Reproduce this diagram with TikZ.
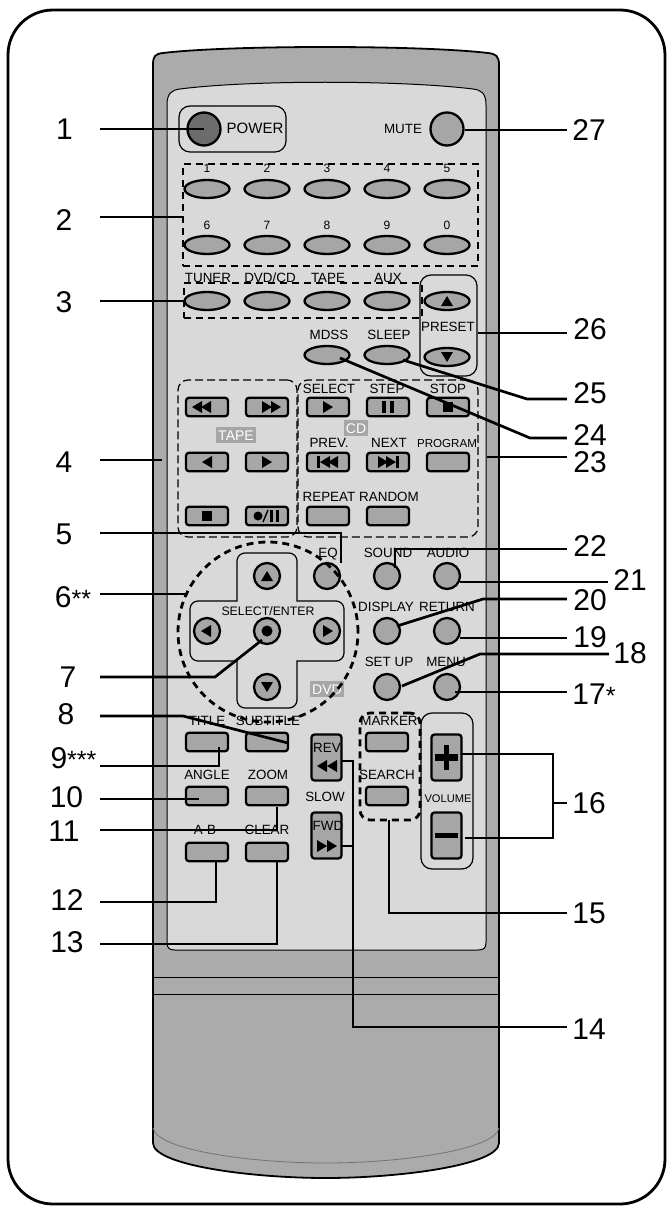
\documentclass[tikz,border=0pt]{standalone}
\usepackage{fontspec}
\setmainfont{Liberation Sans}
\usetikzlibrary{shapes.geometric}
\definecolor{bodygray}{gray}{0.67}
\definecolor{panelgray}{gray}{0.85}
\definecolor{keygray}{gray}{0.65}
\tikzset{
 leader/.style={line width=2.7pt},
 keyoval/.style={draw,line width=2.3pt,fill=keygray,shape=ellipse,inner sep=0pt,minimum width=45pt,minimum height=18pt},
 keyround/.style={draw,line width=2.3pt,fill=keygray,shape=circle,inner sep=0pt,minimum size=26pt},
 keyrect/.style={draw,line width=2.3pt,fill=keygray,rounded corners=3pt,inner sep=0pt,minimum width=42pt,minimum height=18.5pt},
 keytall/.style={draw,line width=2.3pt,fill=keygray,rounded corners=3pt,inner sep=0pt,minimum width=30pt,minimum height=46pt},
 groupbox/.style={draw,line width=1.2pt,rounded corners=11pt,inner sep=0pt},
 heavydash/.style={draw,line width=2.8pt,dash pattern=on 7pt off 5pt},
 lightdash/.style={draw,line width=1.2pt,dash pattern=on 8pt off 4pt},
 keytext/.style={inner sep=0pt,text height=9.6pt,text depth=0pt,font=\fontsize{13.4}{14}\selectfont},
 tag/.style={fill=keygray,text=white,inner xsep=2pt,inner ysep=3pt,text height=10pt,text depth=0pt,font=\fontsize{14}{14}\selectfont},
 numtext/.style={inner sep=0pt,text height=21.5pt,text depth=0pt,font=\fontsize{30}{30}\selectfont}
}
\newcommand{\startxt}[1]{{\fontsize{25}{25}\selectfont #1}}
\newcommand{\ltri}[2]{\fill (#1+5,#2-6) -- (#1+5,#2+6) -- (#1-5,#2) -- cycle;}
\newcommand{\rtri}[2]{\fill (#1-5,#2-6) -- (#1-5,#2+6) -- (#1+5,#2) -- cycle;}
\newcommand{\utri}[2]{\fill (#1-6,#2+5) -- (#1+6,#2+5) -- (#1,#2-5) -- cycle;}
\newcommand{\dtri}[2]{\fill (#1-6,#2-5) -- (#1+6,#2-5) -- (#1,#2+5) -- cycle;}
\begin{document}
\begin{tikzpicture}[x=1pt,y=-1pt]
\useasboundingbox (0,0) rectangle (667,1212);
\draw[line width=2.8pt,rounded corners=45pt] (8,10) rectangle (665,1204);

% remote body
\draw[line width=1.8pt,fill=bodygray] (153,1143) -- (153,65) .. controls (153,56) and (155,54) .. (163,53)
 .. controls (230,45) and (420,45) .. (488,53) .. controls (496,54) and (499,56) .. (499,65) -- (499,1143)
 .. controls (499,1165) and (400,1178) .. (326,1178) .. controls (250,1178) and (153,1165) .. (153,1143) -- cycle;
\draw[line width=0.8pt,gray!90!black] (153,1128) .. controls (157,1150) and (250,1163) .. (326,1163) .. controls (400,1163) and (495,1150) .. (499,1128);
\draw[line width=0.8pt] (153,977) -- (499,977);
\draw[line width=0.8pt] (153,994) -- (499,994);
\draw[line width=1pt,fill=panelgray] (167,942) -- (167,105) .. controls (167,93) and (172,90) .. (180,89)
 .. controls (250,80) and (400,80) .. (473,89) .. controls (481,90) and (486,93) .. (486,105) -- (486,942)
 .. controls (486,948) and (484,950) .. (478,950) -- (175,950) .. controls (169,950) and (167,948) .. (167,942) -- cycle;

% thin frames
\node[groupbox,minimum width=107pt,minimum height=46pt] (powerbox) at (232.5,129) {};
\node[groupbox,minimum width=57pt,minimum height=101pt] (presetbox) at (448.5,325.5) {};
\node[groupbox,minimum width=52pt,minimum height=156pt] (volbox) at (447,791) {};
\node[lightdash,rounded corners=10pt,inner sep=0pt,minimum width=119pt,minimum height=157pt] (tapebox) at (237.5,458.5) {};
\node[lightdash,rounded corners=10pt,inner sep=0pt,minimum width=180pt,minimum height=157pt] (cdbox) at (388,458.5) {};
\draw[line width=1.2pt] (237,601) [rounded corners=8pt] -- (237,553) -- (297,553) [sharp corners] -- (297,601)
 [rounded corners=8pt] -- (344,601) -- (344,661) [sharp corners] -- (297,661) [rounded corners=8pt] -- (297,708)
 -- (237,708) [sharp corners] -- (237,661) [rounded corners=8pt] -- (190,661) -- (190,601) [sharp corners] -- cycle;

% key names
\foreach \nm/\t/\x/\y in {
 a/MUTE/403/129,b/MDSS/329/335,c/SLEEP/389/335,d/SELECT/329/389,e/STEP/387/389,f/STOP/448/389,
 g/PREV./329/443,h/NEXT/389/443,i/REPEAT/329/497,j/RANDOM/389/497,k/EQ/328/553,l/SOUND/388/553,
 m/AUDIO/448/553,n/DISPLAY/386/607,o/RETURN/447/607,p/SET UP/389/662,q/MENU/446/662,r/TITLE/207/721,
 s/SUBTITLE/268/721,u/MARKER/389/721,v/ANGLE/207/775,w/ZOOM/268/775,y/SEARCH/387/775,z/A-B/205/830,
 aa/CLEAR/267/830,ab/SLOW/325/797,ae/TUNER/208/278,af/TAPE/328/278,ag/AUX/388/278}
 \node[keytext] (t\nm) at (\x,\y) {\t};
\node[keytext,font=\fontsize{15}{15}\selectfont] (tpower) at (255,129) {POWER};
\node[keytext] (tdvdcd) at (270,278) {DVD/CD};
\node[keytext,font=\fontsize{12.3}{13}\selectfont] (tselect) at (268,611) {SELECT/ENTER};
\node[keytext] (tpreset) at (448,327) {PRESET};
\node[keytext,font=\fontsize{11.6}{12}\selectfont] (tprogram) at (447,443) {PROGRAM};
\node[keytext,font=\fontsize{11.1}{12}\selectfont] (tvolume) at (448,798) {VOLUME};
\foreach \t [count=\i] in {1,2,3,4,5}
 \node[keytext,font=\fontsize{12}{12}\selectfont] (d\t) at (147+60*\i,168) {\t};
\foreach \t [count=\i] in {6,7,8,9,0}
 \node[keytext,font=\fontsize{12}{12}\selectfont] (d\t) at (147+60*\i,225) {\t};
\node[tag] (tagtape) at (236,435) {TAPE};
\node[tag] (tagcd) at (356,428) {CD};
\node[tag] (tagdvd) at (327,689) {DVD};

% keys
\node[keyround,fill=gray!85!black,minimum size=33pt] (power) at (204,129) {};
\node[keyround,minimum size=33pt] (mute) at (447,129) {};
\foreach \nm/\x/\y in {k1/207/189,k2/267/189,k3/327/189,k4/387/189,k5/447/189,
 k6/207/245,k7/267/245,k8/327/245,k9/387/245,k0/447/245,
 tuner/207/301,dvdcd/267/301,tape/327/301,aux/387/301,pup/447/301,pdown/447/357,mdss/327/355,sleep/387/355}
 \node[keyoval] (\nm) at (\x,\y) {};
\foreach \nm/\x/\y in {rew/207/407,ff/267/407,bk/207/462,fw/267/462,st/207/516,rec/267/516,
 sel/328/407,stp/388/407,stop/448/407,prev/328/462,next/388/462,prog/448/462,rpt/328/516,rnd/388/516,
 title/207/742,subtitle/267/742,angle/207/796,zoom/267/796,ab/207/852,clear/267/852,marker/387/742,search/387/796}
 \node[keyrect] (\nm) at (\x,\y) {};
\foreach \nm/\x/\y in {up/267/576,lt/207/631,enter/267/631,rt/327/631,dn/267/687,
 eq/327/576,sound/387/576,audio/447/576,disp/387/631,ret/447/631,setup/387/687,menu/447/687}
 \node[keyround] (\nm) at (\x,\y) {};
\node[keytall] (rev) at (326.5,757.5) {};
\node[keytall] (fwd) at (326.5,835.5) {};
\node[keytall] (plus) at (446.5,757.5) {};
\node[keytall] (minus) at (446.5,835.5) {};
\node[keytext] (trev) at (327,748) {REV};
\node[keytext] (tfwd) at (328,826) {FWD};

% key marks
\utri{447}{301} \dtri{447}{357}
\ltri{197}{407} \ltri{206}{407} \rtri{267}{407} \rtri{276}{407}
\ltri{207}{462} \rtri{267}{462}
\fill (202,511) rectangle (212,521);
\fill (258,516) circle (4.5pt);
\draw[line width=1.4pt] (263,522) -- (268,510);
\fill (270,510) rectangle (273,522);
\fill (276,510) rectangle (279,522);
\rtri{328}{407}
\fill (382,401) rectangle (386,413);
\fill (390,401) rectangle (394,413);
\fill (443,402) rectangle (453,412);
\fill (317,456) rectangle (320,468);
\ltri{325}{462} \ltri{333}{462}
\rtri{383}{462} \rtri{391}{462}
\fill (396,456) rectangle (399,468);
\utri{267}{576} \dtri{267}{687} \ltri{206}{631} \rtri{328}{631}
\fill (267,631) circle (5.5pt);
\ltri{322}{766} \ltri{332}{766} \rtri{322}{846} \rtri{332}{846}
\fill (435,754) rectangle (458,761);
\fill (444,745) rectangle (449,770);
\fill (435,833) rectangle (458,838);

% dashed groups
\node[heavydash,inner sep=0pt,minimum width=295pt,minimum height=102pt] (nums) at (330.5,215) {};
\node[heavydash,inner sep=0pt,minimum width=238pt,minimum height=35pt] (src) at (303,300.5) {};
\node[heavydash,shape=circle,inner sep=0pt,minimum size=180pt] (dvdring) at (268,632) {};
\node[heavydash,rounded corners=10pt,inner sep=0pt,minimum width=60pt,minimum height=107pt] (marks) at (390,766.5) {};

% numbers round the remote
\foreach \n/\t/\x/\y/\e in {
 1/1/64.5/129/100,2/2/64/220/100,3/3/64/302/100,4/4/64/462/100,5/5/64/534/100,
 6/{6\startxt{**}}/73/597/100,7/7/68/677/100,8/8/66/714/100,9/{9\startxt{***}}/73.5/758/100,
 10/10/66.5/797/100,11/11/64/831/100,12/12/67/900/100,13/13/67/942/100,
 14/14/589/1029/567,15/15/589/913/567,16/16/589/803/567,17/{17\startxt{*}}/594/694/567,
 18/18/630/653/609,19/19/590/637/567,20/20/590/600/567,21/21/630/580/608,22/22/590/546/567,
 23/23/590/462/567,24/24/590/435/567,25/25/590/393/567,26/26/590/329/567,27/27/589/130/567}
 \node[numtext,minimum width={2*abs(\x-\e)}] (l\n) at (\x,\y) {\t};

% leaders
\coordinate (c2) at (183,217);
\coordinate (c4) at (162,460);
\coordinate (c5) at (341,563);
\coordinate (c6) at (188,594);
\coordinate (c7) at (262,640);
\coordinate (c8) at (288,743);
\coordinate (c9) at (219,747);
\coordinate (c10) at (199,799);
\coordinate (c11) at (277,807);
\coordinate (c12) at (216,862);
\coordinate (c13) at (277,862);
\coordinate (c14a) at (342,761);
\coordinate (c14b) at (342,846);
\coordinate (c15) at (389,820);
\coordinate (c16a) at (462,754);
\coordinate (c16b) at (465,838);
\coordinate (c17) at (455,692);
\coordinate (c18) at (402,686);
\coordinate (c19) at (460,638);
\coordinate (c20) at (397,626);
\coordinate (c21) at (460,582);
\coordinate (c22) at (395,568);
\coordinate (c23) at (487,457);
\coordinate (c24) at (340,358);
\coordinate (c25) at (403,360);
\coordinate (c26) at (478,333);
\coordinate (c27) at (465,130);
\draw[leader] (l1.east |- power) -- (power.center);
\draw[leader] (l2.east |- c2) -- (c2);
\draw[leader] (l3.east |- tuner) -- (tuner.west);
\draw[leader] (l4.east |- c4) -- (c4);
\draw[leader] (l5.east |- 0,533) -| (c5);
\draw[leader] (l6.east |- c6) -- (c6);
\draw[leader] (l7.east |- 0,677) -- (215,677) -- (c7);
\draw[leader] (l8.east |- 0,716) -- (183,716) -- (c8);
\draw[leader] (l9.east |- 0,766) -| (c9);
\draw[leader] (l10.east |- c10) -- (c10);
\draw[leader] (l11.east |- 0,830) -| (c11);
\draw[leader] (l12.east |- 0,902) -| (c12);
\draw[leader] (l13.east |- 0,944) -| (c13);
\draw[leader] (c14a) -- (353,761) -- (353,1027) -- (l14.west |- 0,1027);
\draw[leader] (c14b) -- (353,846);
\draw[leader] (c15) |- (l15.west |- 0,913);
\draw[leader] (c16a) -- (553,754) -- (553,838) -- (c16b);
\draw[leader] (553,803) -- (l16.west |- 0,803);
\draw[leader] (c17) -- (l17.west |- c17);
\draw[leader] (c18) -- (480,654) -- (l18.west |- 0,654);
\draw[leader] (c19) -- (l19.west |- c19);
\draw[leader] (c20) -- (483,599) -- (l20.west |- 0,599);
\draw[leader] (c21) -- (l21.west |- c21);
\draw[leader] (c22) |- (l22.west |- 0,549);
\draw[leader] (c23) -- (l23.west |- c23);
\draw[leader] (c24) -- (530,438) -- (l24.west |- 0,438);
\draw[leader] (c25) -- (527,399) -- (l25.west |- 0,399);
\draw[leader] (c26) -- (l26.west |- c26);
\draw[leader] (c27) -- (l27.west |- c27);
\end{tikzpicture}
\end{document}
